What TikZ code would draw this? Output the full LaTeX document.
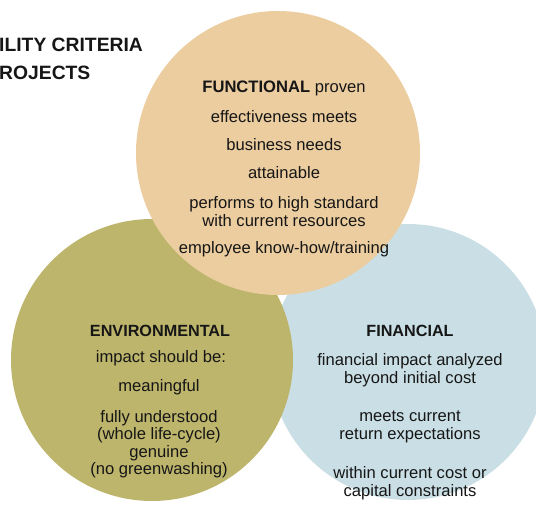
\documentclass[tikz,border=0pt]{standalone}
\usepackage{fontspec}
\setmainfont{Liberation Sans}
\definecolor{peachc}{HTML}{ECCDA0}
\definecolor{olivec}{HTML}{BDB56C}
\definecolor{bluec}{HTML}{CADFE5}
\definecolor{inkc}{HTML}{161616}
\begin{document}
\begin{tikzpicture}[x=1pt,y=-1pt,
  disc/.style={circle, draw=none, inner sep=0pt},
  body/.style={inner sep=0pt, align=center, text=inkc,
    font=\fontsize{16.6}{18}\selectfont},
  head/.style={inner sep=0pt, align=center, text=inkc,
    font=\fontsize{16.2}{18}\selectfont\bfseries},
  titletext/.style={inner sep=0pt, anchor=west, text=inkc,
    font=\fontsize{19.3}{21}\selectfont\bfseries}]
\useasboundingbox (0,0) rectangle (536,508);
\node[disc, fill=bluec, minimum size=276pt] (fin) at (408,362) {};
\node[disc, fill=olivec, minimum size=282pt] (env) at (152,360) {};
\node[disc, fill=peachc, minimum size=284pt] (fun) at (278,153) {};
% title
\node[titletext] (t1) at (-1,45) {ILITY CRITERIA};
\node[titletext] (t2) at (-1,73) {ROJECTS};
% functional
\node[body] (f1) at (284,88) {\textbf{FUNCTIONAL} proven};
\node[body] (f2) at (284,117) {effectiveness meets};
\node[body] (f3) at (284,145) {business needs};
\node[body] (f4) at (284,173) {attainable};
\node[body] (f5) at (284,211.5) {performs to high standard\\with current resources};
\node[body] (f6) at (284,249) {employee know-how/training};
% environmental
\node[head] (e1) at (160,331) {ENVIRONMENTAL};
\node[body] (e2) at (161,358) {impact should be:};
\node[body] (e3) at (159,387) {meaningful};
\node[body, font=\fontsize{16.6}{17.5}\selectfont] (e4) at (159,444) {fully understood\\(whole life-cycle)\\genuine\\(no greenwashing)};
% financial
\node[head] (n1) at (410,331) {FINANCIAL};
\node[body] (n2) at (410,370) {financial impact analyzed\\beyond initial cost};
\node[body] (n3) at (410,426.5) {meets current\\return expectations};
\node[body] (n4) at (410,483) {within current cost or\\capital constraints};
\end{tikzpicture}
\end{document}
